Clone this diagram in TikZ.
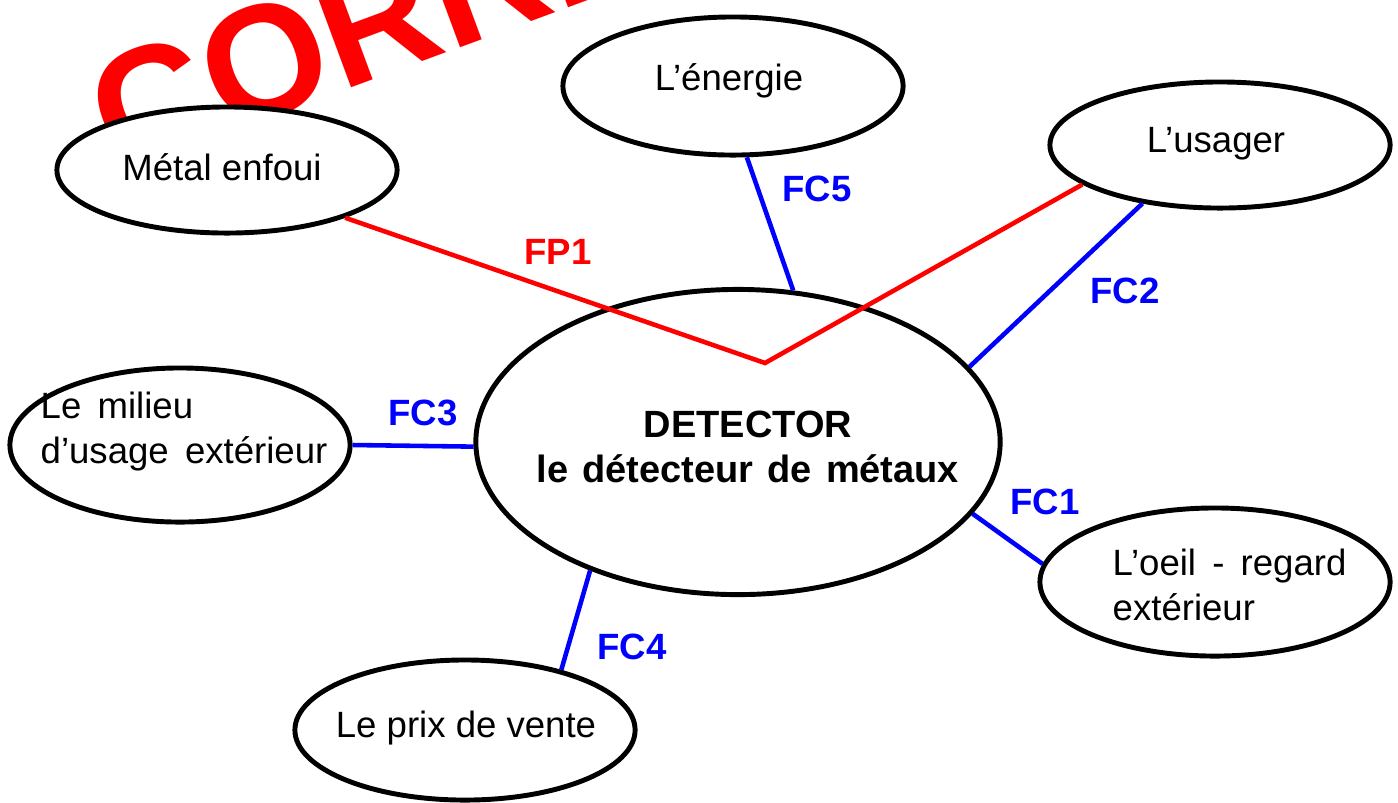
\documentclass[tikz,border=0pt]{standalone}
\usepackage{fontspec}
\setmainfont{Liberation Sans}
\usetikzlibrary{shapes.geometric}

\begin{document}
\begin{tikzpicture}[x=0.01cm,y=-0.01cm]
\tikzset{
    vertex/.style={ellipse,draw,line width=1.4pt,fill=white,inner sep=0pt},
    txt/.style={font=\fontsize{10.4}{12.6}\selectfont,inner sep=0pt,anchor=base},
    flabel/.style={font=\fontsize{10.4}{12.6}\selectfont\bfseries,inner sep=0pt,anchor=base},
    fc/.style={blue,line width=1.3pt},
    fp/.style={red,line width=1.3pt}
}
\useasboundingbox (0,0) rectangle (1398,802);
\clip (0,0) rectangle (1398,802);
% stamp
\node[red,font=\fontsize{45.5}{50}\selectfont\bfseries,rotate=20.3,anchor=base west,inner sep=0pt] (stamp) at (116,175) {CORRIGE};
% vertices
\node[vertex,minimum width=3.4cm,minimum height=1.26cm] (met) at (227,170) {};
\node[vertex,minimum width=3.4cm,minimum height=1.38cm] (nrg) at (733,86) {};
\node[vertex,minimum width=3.4cm,minimum height=1.26cm] (usr) at (1220,145) {};
\node[vertex,minimum width=3.4cm,minimum height=1.54cm] (mil) at (180,445) {};
\node[vertex,minimum width=5.24cm,minimum height=3.05cm] (det) at (738,442) {};
\node[vertex,minimum width=3.5cm,minimum height=1.48cm] (oeil) at (1215,582) {};
\node[vertex,minimum width=3.4cm,minimum height=1.4cm] (prix) at (465,730) {};
% texts
\node[txt] (met-t) at (222,180) {Métal enfoui};
\node[txt] (nrg-t) at (729,90) {L’énergie};
\node[txt] (usr-t) at (1216,152) {L’usager};
\node[txt,anchor=base west,align=left] (mil-t) at (40,463) {Le\, milieu\\d’usage\, extérieur};
\node[txt,font=\fontsize{10.8}{12.6}\selectfont\bfseries,align=center] (det-t) at (748,482) {DETECTOR\\le\hspace{1pt} détecteur\hspace{1pt} de\hspace{1pt} métaux};
\node[txt,anchor=base west,align=left] (oeil-t) at (1112,620) {L’oeil\, -\, regard\\extérieur};
\node[txt] (prix-t) at (466,737) {Le prix de vente};
% edges
\coordinate (fp) at (765,363);
\draw[fp] (met.-22) -- (fp) -- (usr.-164);
\draw[fc] (nrg.-79) -- (det.70);
\draw[fc] (usr.-143) -- (det.18);
\draw[fc] (mil.0) -- (det.181);
\draw[fc] (det.-17) -- (oeil.174);
\draw[fc] (det.-139) -- (prix.32);
% labels
\node[flabel,red] (fp1) at (558,264) {FP1};
\node[flabel,blue] (fc5) at (817,201) {FC5};
\node[flabel,blue] (fc2) at (1125,303) {FC2};
\node[flabel,blue] (fc3) at (423,425) {FC3};
\node[flabel,blue] (fc1) at (1045,514) {FC1};
\node[flabel,blue] (fc4) at (632,659) {FC4};
\end{tikzpicture}
\end{document}
